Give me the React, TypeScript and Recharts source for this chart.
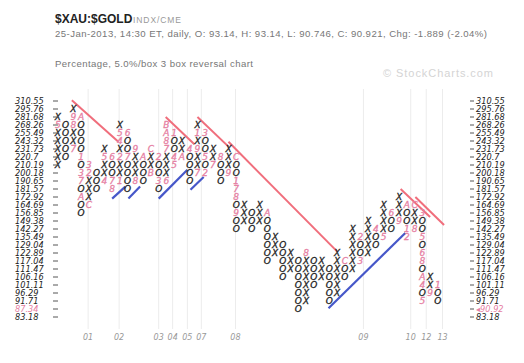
import React from 'react';
import { ScatterChart, Scatter, XAxis, YAxis, ReferenceLine } from 'recharts';

// box prices, lowest box first (5% boxes)
const boxPrices = [
  '83.18', '87.34', '91.71', '96.29', '101.11', '106.16', '111.47', '117.04', '122.89', '129.04',
  '135.49', '142.27', '149.38', '156.85', '164.69', '172.92', '181.57', '190.65', '200.18', '210.19',
  '220.7', '231.73', '243.32', '255.49', '268.26', '281.68', '295.76', '310.55',
];
const lastPrice = '90.92';
const lastPriceBox = 1;

// columns alternate X / O, starting with an X column
const colBottoms = [
  19, 20, 21, 13, 14, 16, 17, 16, 17, 16, 17, 17, 18, 16, 17, 19, 20, 17, 18, 18,
  19, 17, 18, 11, 12, 11, 12, 7, 8, 5, 6, 1, 2, 4, 5, 2, 3, 5, 6, 7,
  8, 9, 10, 11, 12, 10, 11, 2, 3, 2,
];
const colTops = [
  25, 24, 26, 25, 19, 18, 21, 20, 24, 23, 21, 20, 21, 20, 24, 23, 22, 21, 24, 23,
  21, 20, 21, 20, 14, 13, 14, 13, 10, 9, 8, 7, 8, 7, 7, 6, 8, 7, 11, 10,
  12, 11, 14, 13, 15, 14, 14, 13, 5, 4,
];

// month markers: [column, box, month code]
const monthMarks: [number, number, string][] = [
  [0, 24, '5'], [2, 21, '7'], [2, 24, '8'], [2, 25, '9'], [3, 25, 'A'], [3, 20, '1'], [3, 18, '3'],
  [3, 17, '7'], [3, 15, 'A'], [4, 14, 'C'], [4, 18, '2'], [4, 19, '3'], [6, 17, '4'], [6, 20, '5'],
  [7, 20, '6'], [7, 17, '7'], [7, 16, '8'], [8, 17, '1'], [8, 20, '2'], [8, 22, '4'], [8, 23, '5'],
  [9, 23, '6'], [9, 20, '7'], [10, 17, '8'], [10, 21, '9'], [11, 20, 'A'], [12, 18, 'B'], [12, 21, 'C'],
  [13, 20, '2'], [13, 17, '3'], [14, 17, '6'], [14, 21, '7'], [14, 22, '8'], [14, 23, 'A'], [14, 24, 'B'],
  [15, 23, '1'], [15, 20, '4'], [15, 19, '5'], [16, 20, 'A'], [17, 21, '4'], [18, 18, '7'], [18, 21, '9'],
  [18, 23, '1'], [19, 23, '3'], [19, 20, '5'], [19, 18, '2'], [20, 19, '7'], [21, 20, '8'], [22, 18, '9'],
  [23, 20, 'C'], [23, 17, '1'], [23, 16, '7'], [23, 15, '8'], [23, 13, '9'], [27, 13, 'A'], [32, 8, '8'],
  [37, 7, 'C'], [39, 10, '2'], [39, 7, '3'], [41, 11, '4'], [42, 10, '5'], [43, 13, '6'], [44, 12, '9'],
  [45, 14, 'A'], [45, 11, '1'], [45, 10, '2'], [46, 11, '8'], [46, 14, 'C'], [47, 13, '3'], [47, 10, '5'],
  [47, 8, '6'], [47, 7, '8'], [47, 5, 'A'], [47, 4, '4'], [47, 2, '5'], [48, 3, '9'], [49, 4, '1'],
];

const yearLabels = ['01', '02', '03', '04', '05', '07', '08', '09', '10', '12', '13'];
const yearCols = [3.9, 7.9, 13.0, 14.8, 16.7, 18.5, 22.9, 39.4, 45.5, 47.5, 49.6];

// trend lines: [col1, box1, col2, box2]
const resistanceLines = [
  [1.8, 27.1, 7.8, 21.9],
  [13.9, 25.0, 17.6, 21.6],
  [18.0, 25.0, 22.0, 21.3],
  [22.0, 21.9, 36.0, 8.2],
  [44.2, 16.0, 48.0, 12.5],
  [46.1, 15.0, 49.8, 11.5],
];
const supportLines = [
  [7.0, 14.8, 8.7, 16.3],
  [9.1, 14.8, 10.6, 16.3],
  [13.0, 14.8, 16.7, 18.4],
  [17.1, 15.9, 18.8, 17.5],
  [34.9, 1.1, 44.8, 10.5],
];

const PINK = '#e67fa3';
const RED = '#f06e7c';
const BLUE = '#4657c9';
const INK = '#222';
const FONT = 'DejaVu Sans';

const cells = colBottoms.flatMap((bottom, c) => {
  const kind = c % 2 === 0 ? 'X' : 'O';
  const out: { col: number; row: number; label: string; month: boolean }[] = [];
  for (let r = bottom; r <= colTops[c]; r++) {
    const m = monthMarks.find(([mc, mr]) => mc === c && mr === r);
    out.push({ col: c, row: r, label: m ? m[2] : kind, month: !!m });
  }
  return out;
});

const boxTicks = boxPrices.map((_, i) => i);

const Glyph = (p: any) => {
  const fill = p.payload.month ? PINK : INK;
  return (
    <text
      x={p.cx}
      y={p.cy + 3.3}
      textAnchor="middle"
      fontSize={9}
      fontStyle="italic"
      fontFamily={FONT}
      fill={fill}
      stroke={fill}
      strokeWidth={0.3}
    >
      {p.payload.label}
    </text>
  );
};

const NoDot = () => <g />;

const LeftTick = (p: any) => {
  const r = p.payload.value;
  return (
    <g>
      <text x={15} y={p.y + 3} fontSize={8.2} fontStyle="italic" fontFamily={FONT} fill={r === lastPriceBox ? PINK : '#222'}>
        {boxPrices[r]}
      </text>
      <line x1={53} x2={58} y1={p.y} y2={p.y} stroke="#555" />
    </g>
  );
};

const RightTick = (p: any) => {
  const r = p.payload.value;
  const cur = r === lastPriceBox;
  return (
    <g>
      <line x1={470} x2={474} y1={p.y} y2={p.y} stroke="#555" />
      <text x={476} y={p.y + 3} fontSize={8.2} fontStyle="italic" fontFamily={FONT} fill={cur ? PINK : '#222'}>
        {cur ? '\u25C2' + lastPrice : boxPrices[r]}
      </text>
    </g>
  );
};

const YearTick = (p: any) => {
  const i = yearCols.indexOf(p.payload.value);
  return (
    <text x={p.x} y={p.y + 3} textAnchor="middle" fontSize={8} fontStyle="italic" fontFamily={FONT} fill="#999">
      {yearLabels[i]}
    </text>
  );
};

const toPts = (l: number[]) => [
  { col: l[0], row: l[1] },
  { col: l[2], row: l[3] },
];

const App = () => (
  <div style={{ position: 'absolute', left: 0, top: 0, width: 524, height: 363, background: '#fff' }}>
    <ScatterChart width={524} height={363} margin={{ top: 89, right: 0, bottom: 14, left: 0 }}>
      <XAxis
        type="number"
        dataKey="col"
        domain={[-0.5, 52.5]}
        allowDataOverflow
        ticks={yearCols}
        interval={0}
        tick={YearTick}
        axisLine={false}
        tickLine={false}
        height={20}
      />
      <YAxis
        type="number"
        dataKey="row"
        domain={[-1.5, 28.5]}
        allowDataOverflow
        ticks={boxTicks}
        interval={0}
        tick={LeftTick}
        axisLine={false}
        tickLine={false}
        width={54}
      />
      <YAxis
        yAxisId="right"
        orientation="right"
        type="number"
        dataKey="row"
        domain={[-1.5, 28.5]}
        allowDataOverflow
        ticks={boxTicks}
        interval={0}
        tick={RightTick}
        axisLine={false}
        tickLine={false}
        width={59}
      />
      {yearCols.map((c) => (
        <ReferenceLine key={'y' + c} x={c} stroke="#ececec" strokeWidth={1} />
      ))}
      {resistanceLines.map((l, i) => (
        <Scatter key={'r' + i} data={toPts(l)} line={{ stroke: RED, strokeWidth: 2 }} shape={NoDot} isAnimationActive={false} />
      ))}
      {supportLines.map((l, i) => (
        <Scatter key={'s' + i} data={toPts(l)} line={{ stroke: BLUE, strokeWidth: 2.2 }} shape={NoDot} isAnimationActive={false} />
      ))}
      <Scatter data={cells} shape={Glyph} isAnimationActive={false} />
    </ScatterChart>
    <svg width={524} height={90} style={{ position: 'absolute', left: 0, top: 0, pointerEvents: 'none' }}>
      <text x={55} y={23} fontSize={12} fontWeight="bold" fontFamily="Liberation Sans" fill="#222">
        $XAU:$GOLD
      </text>
      <text x={133} y={23} fontSize={8.5} textLength={48} lengthAdjust="spacing" fontFamily="Liberation Sans" fill="#999">
        INDX/CME
      </text>
      <text x={55} y={37} fontSize={9.6} textLength={432} lengthAdjust="spacing" fontFamily="Liberation Sans" fill="#777">
        25-Jan-2013, 14:30 ET, daily, O: 93.14, H: 93.14, L: 90.746, C: 90.921, Chg: -1.889 (-2.04%)
      </text>
      <text x={55} y={67} fontSize={9.6} textLength={198} lengthAdjust="spacing" fontFamily="Liberation Sans" fill="#777">
        Percentage, 5.0%/box 3 box reversal chart
      </text>
      <text x={383} y={77} fontSize={11} textLength={110} lengthAdjust="spacing" fontFamily="Liberation Sans" fill="#d4d4d4">
        © StockCharts.com
      </text>
    </svg>
  </div>
);

export default App;
